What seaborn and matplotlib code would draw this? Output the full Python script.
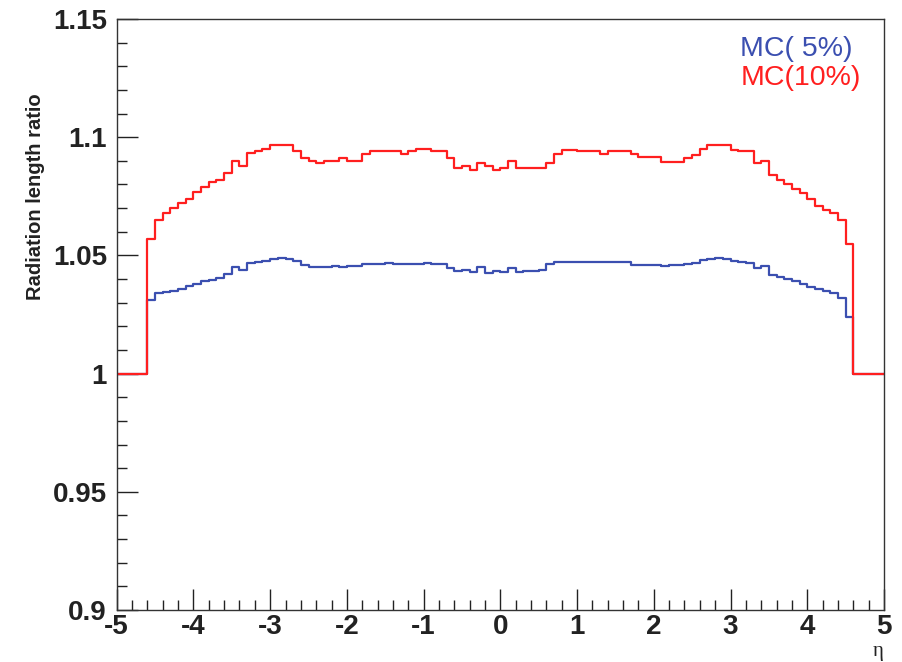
import numpy as np
import pandas as pd
import matplotlib
matplotlib.use("Agg")
import matplotlib.pyplot as plt
from matplotlib.ticker import MultipleLocator
import seaborn as sns

# ---- data -------------------------------------------------------------
eta_edges = np.round(np.arange(-5.0, 5.0001, 0.1), 2)   # 100 bins of width 0.1

mc10_ratio = [
    1.000, 1.000, 1.000, 1.000, 1.057, 1.065, 1.068, 1.070, 1.072, 1.074,
    1.077, 1.079, 1.081, 1.082, 1.085, 1.090, 1.088, 1.0935, 1.094, 1.095,
    1.0966, 1.0966, 1.0966, 1.094, 1.091, 1.090, 1.089, 1.090, 1.090, 1.091,
    1.090, 1.090, 1.093, 1.094, 1.094, 1.094, 1.094, 1.093, 1.094, 1.095,
    1.095, 1.094, 1.094, 1.091, 1.087, 1.088, 1.086, 1.089, 1.088, 1.086,
    1.087, 1.090, 1.087, 1.087, 1.087, 1.087, 1.089, 1.093, 1.0945, 1.0945,
    1.094, 1.094, 1.094, 1.093, 1.094, 1.094, 1.094, 1.093, 1.0916, 1.0916,
    1.0916, 1.0895, 1.0895, 1.0895, 1.091, 1.0924, 1.095, 1.0966, 1.0966, 1.0966,
    1.0945, 1.0942, 1.0942, 1.089, 1.090, 1.084, 1.082, 1.080, 1.078, 1.0765,
    1.074, 1.071, 1.069, 1.0678, 1.065, 1.055, 1.000, 1.000, 1.000, 1.000,
]

mc5_ratio = [
    1.000, 1.000, 1.000, 1.000, 1.031, 1.034, 1.0345, 1.035, 1.036, 1.037,
    1.038, 1.039, 1.0395, 1.0405, 1.042, 1.045, 1.044, 1.047, 1.0472, 1.0475,
    1.0486, 1.0488, 1.0486, 1.0475, 1.0458, 1.0453, 1.0453, 1.0453, 1.0455, 1.0453,
    1.0455, 1.0455, 1.0465, 1.0465, 1.0465, 1.0466, 1.0465, 1.0465, 1.0465, 1.0465,
    1.0466, 1.0465, 1.0465, 1.0445, 1.0436, 1.044, 1.043, 1.045, 1.0425, 1.0435,
    1.0429, 1.0445, 1.043, 1.0436, 1.0436, 1.044, 1.0462, 1.0472, 1.0472, 1.0474,
    1.0472, 1.0472, 1.0472, 1.0472, 1.0473, 1.0472, 1.0472, 1.046, 1.0458, 1.0458,
    1.0458, 1.0457, 1.0458, 1.0458, 1.0462, 1.0468, 1.048, 1.0486, 1.0487, 1.0486,
    1.0475, 1.0472, 1.0470, 1.0445, 1.0455, 1.0418, 1.0408, 1.040, 1.039, 1.038,
    1.0365, 1.036, 1.0348, 1.034, 1.032, 1.024, 1.000, 1.000, 1.000, 1.000,
]

series_names = ["MC( 5%)", "MC(10%)"]
series_colors = ["#3b4fb0", "#ff1f1f"]

x_ticks = [-5, -4, -3, -2, -1, 0, 1, 2, 3, 4, 5]
x_ticklabels = ["-5", "-4", "-3", "-2", "-1", "0", "1", "2", "3", "4", "5"]
y_ticks = [0.9, 0.95, 1.0, 1.05, 1.1, 1.15]
y_ticklabels = ["0.9", "0.95", "1", "1.05", "1.1", "1.15"]

# ---- long-form table (step outline: last value repeated at right edge) --
frames = []
for name, vals in zip(series_names, [mc5_ratio, mc10_ratio]):
    frames.append(pd.DataFrame({
        "eta": eta_edges,
        "ratio": list(vals) + [vals[-1]],
        "sample": name,
    }))
df = pd.concat(frames, ignore_index=True)

# ---- plot ---------------------------------------------------------------
sns.set_theme(style="white")
plt.rcParams["font.family"] = ["Liberation Sans", "DejaVu Sans"]
plt.rcParams["axes.unicode_minus"] = False

fig = plt.figure(figsize=(9.02, 6.62), dpi=100)
ax = fig.add_axes([0.1294, 0.0785, 0.8506, 0.8928])

sns.lineplot(
    data=df, x="eta", y="ratio", hue="sample",
    hue_order=series_names, palette=dict(zip(series_names, series_colors)),
    estimator=None, drawstyle="steps-post", linewidth=1.6,
    legend=False, ax=ax,
)

ax.set_xlim(-5, 5)
ax.set_ylim(0.9, 1.15)

ax.set_xticks(x_ticks)
ax.set_xticklabels(x_ticklabels)
ax.set_yticks(y_ticks)
ax.set_yticklabels(y_ticklabels)
ax.xaxis.set_minor_locator(MultipleLocator(0.2))
ax.yaxis.set_minor_locator(MultipleLocator(0.01))

ax.tick_params(which="both", direction="in", top=False, right=False,
               left=True, bottom=True, color="#222222", width=1.0)
ax.tick_params(which="major", length=15)
ax.tick_params(which="minor", length=7)
ax.tick_params(axis="x", which="major", labelsize=20, pad=3)
ax.tick_params(axis="y", which="major", labelsize=20, pad=7)
for lbl in ax.get_xticklabels() + ax.get_yticklabels():
    lbl.set_fontweight("bold")
    lbl.set_color("#222222")

for sp in ax.spines.values():
    sp.set_visible(True)
    sp.set_color("#333333")
    sp.set_linewidth(1.0)

ax.set_ylabel("Radiation length ratio", fontsize=14.5, fontweight="bold",
              color="#222222")
ax.yaxis.set_label_coords(-0.094, 0.70)
ax.set_xlabel("η", loc="right", fontsize=15, family="Liberation Serif",
              color="#222222", labelpad=1)

for name, col, ypos in zip(series_names, series_colors, [0.9495, 0.900]):
    ax.text(0.8127, ypos, name, transform=ax.transAxes, ha="left",
            va="center", fontsize=20.5, color=col)

fig.savefig("out.png", dpi=100)
